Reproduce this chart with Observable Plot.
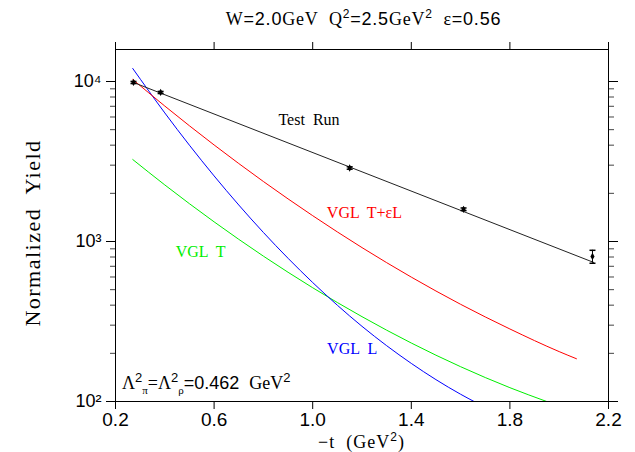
<!DOCTYPE html>
<html><head><meta charset="utf-8">
<script src="https://cdn.jsdelivr.net/npm/d3@7"></script>
<script src="https://cdn.jsdelivr.net/npm/@observablehq/plot@0.6"></script>
<style>body{margin:0;background:#fff}</style>
</head><body><div id="chart"></div>
<script>
// Test run data
const runT = [0.273, 0.383, 1.15, 1.612, 2.135];
const runY = [9860, 8540, 2880, 1590, 806];
const runErr = [150, 130, 50, 30, 75];
// exponential fit line
const fitT = [0.27, 2.14];
const fitY = [9900, 740];
// VGL curves
const redT = [0.27, 0.4, 0.6, 0.8, 1.0, 1.2, 1.4, 1.6, 1.8, 2.0, 2.07];
const redY = [10290, 7024, 4013, 2371, 1450, 916, 599, 405, 284, 205, 185];
const blueT = [0.27, 0.4, 0.6, 0.8, 1.0, 1.2, 1.4, 1.6, 1.66];
const blueY = [12060, 6362, 2570, 1139, 554, 295, 173, 111, 99];
const greenT = [0.27, 0.4, 0.6, 0.8, 1.0, 1.2, 1.4, 1.6, 1.8, 1.953];
const greenY = [3254, 2257, 1327, 810, 514, 339, 232, 165, 122, 99.5];
// labels
const labelText = ["Test  Run", "VGL  T+\u03b5L", "VGL  T", "VGL  L"];
const labelT = [0.985, 1.21, 0.545, 1.16];
const labelV = [5788, 1518, 866, 214];
const labelColor = ["black", "red", "#00ee00", "blue"];
// axes
const xTicks = [0.2, 0.6, 1.0, 1.4, 1.8, 2.2];
const yMajor = [100, 1000, 10000];
const yMinor = [200,300,400,500,600,700,800,900,2000,3000,4000,5000,6000,7000,8000,9000];
const lambdaT = 0.228, lambdaV = 119;

const SERIF = "Liberation Serif, Times New Roman, serif";
const SANS = "Liberation Sans, Arial, sans-serif";

const run = runT.map((t, i) => ({t, y: runY[i], lo: runY[i] - runErr[i], hi: runY[i] + runErr[i]}));
const fit = fitT.map((t, i) => ({t, y: fitY[i]}));
const red = redT.map((t, i) => ({t, y: redY[i]}));
const blue = blueT.map((t, i) => ({t, y: blueY[i]}));
const green = greenT.map((t, i) => ({t, y: greenY[i]}));
const labels = labelText.map((s, i) => ({s, t: labelT[i], v: labelV[i], c: labelColor[i]}));

const sup = {"0":"\u2070","1":"\u00b9","2":"\u00b2","3":"\u00b3","4":"\u2074"};

// build a text element with tspans: parts = [[text, family, dy, size]]
function rich(parts, x, y, opts = {}) {
  const t = d3.create("svg:text")
    .attr("x", x).attr("y", y)
    .attr("text-anchor", opts.anchor || "start")
    .attr("fill", opts.fill || "black")
    .attr("font-size", opts.size || 16)
    .style("white-space", "pre");
  if (opts.transform) t.attr("transform", opts.transform);
  if (opts.ls) t.attr("letter-spacing", opts.ls);
  let cur = 0;
  for (const [s, fam, dy = 0, size] of parts) {
    const ts = t.append("tspan").text(s).attr("font-family", fam === "s" ? SANS : SERIF);
    if (dy - cur !== 0) ts.attr("dy", dy - cur);
    cur = dy;
    if (size) ts.attr("font-size", size);
  }
  return t.node();
}

const capSymbol = {draw(ctx, size) { ctx.moveTo(-3, 0); ctx.lineTo(3, 0); }};

const chart = Plot.plot({
  width: 635, height: 452,
  marginLeft: 115, marginRight: 27, marginTop: 49, marginBottom: 51,
  style: {fontFamily: SANS, background: "white", color: "black"},
  x: {domain: [0.2, 2.2]},
  y: {type: "log", domain: [100, 15849]},
  marks: [
    Plot.axisY({anchor: "left", ticks: yMinor, tickSize: 5, tickFormat: () => "", label: null, stroke: "#444"}),
    Plot.axisY({anchor: "right", ticks: yMinor, tickSize: 5, tickFormat: () => "", label: null, stroke: "#444"}),
    Plot.axisY({anchor: "left", ticks: yMajor, tickSize: 9, tickPadding: 5, label: null, fontSize: 18,
      tickFormat: d => "10" + sup[String(Math.round(Math.log10(d)))]}),
    Plot.axisY({anchor: "right", ticks: yMajor, tickSize: 9, tickFormat: () => "", label: null}),
    Plot.axisX({anchor: "bottom", ticks: xTicks, tickSize: 8, tickPadding: 3, label: null, fontSize: 19,
      tickFormat: d3.format(".1f")}),
    Plot.axisX({anchor: "top", ticks: xTicks, tickSize: 8, tickFormat: () => "", label: null}),
    Plot.frame({stroke: "black"}),
    Plot.line(green, {x: "t", y: "y", stroke: "#00ee00", strokeWidth: 1, curve: "monotone-x", clip: true}),
    Plot.line(blue, {x: "t", y: "y", stroke: "blue", strokeWidth: 1, curve: "monotone-x", clip: true}),
    Plot.line(red, {x: "t", y: "y", stroke: "red", strokeWidth: 1, curve: "monotone-x", clip: true}),
    Plot.line(fit, {x: "t", y: "y", stroke: "#222", strokeWidth: 1}),
    Plot.ruleX(run, {x: "t", y1: "lo", y2: "hi", stroke: "black"}),
    Plot.dot(run, {x: "t", y: "lo", symbol: capSymbol, stroke: "black", r: 3}),
    Plot.dot(run, {x: "t", y: "hi", symbol: capSymbol, stroke: "black", r: 3}),
    Plot.dot(run, {x: "t", y: "y", symbol: "diamond", fill: "black", r: 2.2}),
    Plot.text(labels, {x: "t", y: "v", text: "s", fill: "c", fontFamily: SERIF, fontSize: 16, letterSpacing: 0.6}),
    // lambda annotation
    (index, scales) => rich([
      ["\u039b", "r"], ["2", "s", -7, 13], ["\u03c0", "r", 5, 11], ["=\u039b", "r", 0], ["2", "s", -7, 13],
      ["\u03c1", "r", 5, 11], ["=0.462  ", "s", 0], ["GeV", "r", 0], ["2", "s", -7, 13]
    ], scales.x(lambdaT), scales.y(lambdaV), {size: 18}),
    // title
    (index, scales, values, dim) => rich([
      ["W", "r"], ["=2.0", "s"], ["GeV  Q", "r"], ["2", "s", -7, 12], ["=2.5", "s", 0], ["GeV", "r"],
      ["2", "s", -7, 12], ["  \u03b5", "r", 0], ["=0.56", "s"]
    ], (dim.marginLeft + dim.width - dim.marginRight) / 2 + 2, 25, {anchor: "middle", size: 18, ls: 0.8}),
    // y label
    (index, scales, values, dim) => rich([["Normalized  Yield", "r"]], 0, 0,
      {anchor: "middle", size: 22, ls: 1.5, transform: `translate(40,${(dim.marginTop + dim.height - dim.marginBottom) / 2 + 8}) rotate(-90)`}),
    // x label
    (index, scales, values, dim) => rich([["\u2212t  (GeV", "r"], ["2", "s", -7, 12], [")", "r", 0]],
      (dim.marginLeft + dim.width - dim.marginRight) / 2, 448, {anchor: "middle", size: 18, ls: 1})
  ]
});
document.getElementById("chart").append(chart);
</script>
</body></html>
